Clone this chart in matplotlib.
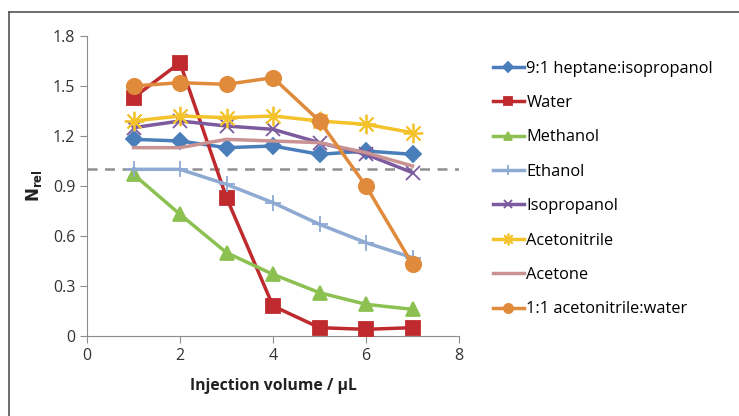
import numpy as np
import matplotlib
matplotlib.use('Agg')
import matplotlib.pyplot as plt
from matplotlib.lines import Line2D

# Data
volume = [1, 2, 3, 4, 5, 6, 7]
heptane_ipa = [1.18, 1.17, 1.13, 1.14, 1.09, 1.11, 1.09]
water = [1.43, 1.64, 0.83, 0.18, 0.05, 0.04, 0.05]
methanol = [0.97, 0.73, 0.50, 0.37, 0.26, 0.19, 0.16]
ethanol = [1.00, 1.00, 0.91, 0.80, 0.67, 0.56, 0.47]
isopropanol = [1.25, 1.29, 1.26, 1.24, 1.16, 1.09, 0.98]
acetonitrile = [1.29, 1.32, 1.31, 1.32, 1.29, 1.27, 1.22]
acetone = [1.13, 1.13, 1.18, 1.17, 1.16, 1.10, 1.02]
acn_water = [1.50, 1.52, 1.51, 1.55, 1.29, 0.90, 0.43]

labels = ['9:1 heptane:isopropanol', 'Water', 'Methanol', 'Ethanol',
          'Isopropanol', 'Acetonitrile', 'Acetone', '1:1 acetonitrile:water']
series = [heptane_ipa, water, methanol, ethanol, isopropanol, acetonitrile, acetone, acn_water]
colors = ['#4a7ebb', '#be2a2e', '#8cc152', '#8ea9d2', '#7b5a9e', '#f4c22b', '#c99393', '#e08a3c']
markers = ['D', 's', '^', '+', 'x', (8, 2, 0), None, 'o']
msizes = [8, 10, 10, 12, 10, 14, 0, 11]

plt.rcParams['font.family'] = ['Open Sans', 'DejaVu Sans']

fig = plt.figure(figsize=(7.39, 4.16), dpi=100)
ax = fig.add_axes([87/739, 1 - 336/416, (459-87)/739, (336-36)/416])

ax.axhline(1.0, color='#909090', lw=1.8, ls=(0, (4, 3)), zorder=1)

for y, lab, c, m, ms in zip(series, labels, colors, markers, msizes):
    kw = dict(color=c, lw=2.5, label=lab, zorder=3)
    if m is not None:
        kw.update(marker=m, markersize=ms, markeredgecolor=c, markeredgewidth=1.3)
    ax.plot(volume, y, **kw)

ax.set_xlim(0, 8)
ax.set_ylim(0, 1.8)
ax.set_xticks([0, 2, 4, 6, 8])
ax.set_yticks(np.arange(0, 1.81, 0.3))
ax.set_yticklabels(['0', '0.3', '0.6', '0.9', '1.2', '1.5', '1.8'])
ax.spines['top'].set_visible(False)
ax.spines['right'].set_visible(False)
for s in ['left', 'bottom']:
    ax.spines[s].set_color('#8c8c8c')
ax.tick_params(axis='both', colors='#8c8c8c', labelcolor='#333333', labelsize=11.5,
               length=5, direction='out')
ax.set_xlabel('Injection volume / \u00b5L', fontsize=11.3, fontweight='bold', color='#222222', labelpad=10)
ax.set_ylabel(r'$\mathbf{N_{rel}}$', fontsize=12, color='#222222', labelpad=6)

handles, labs = ax.get_legend_handles_labels()
leg = fig.legend(handles, labs, loc='upper left', bbox_to_anchor=(478/739, 1 - 46/416),
                 frameon=False, fontsize=11.8, labelspacing=1.12, handlelength=1.9,
                 handletextpad=0.15, markerscale=0.6)

# figure border (top and left visible in reference)
fig.add_artist(Line2D([9/739, 9/739], [0, 1 - 12/416], transform=fig.transFigure, color='#555555', lw=1.2))
fig.add_artist(Line2D([9/739, 1], [1 - 12/416, 1 - 12/416], transform=fig.transFigure, color='#555555', lw=1.2))

fig.savefig('out.png', dpi=100)
